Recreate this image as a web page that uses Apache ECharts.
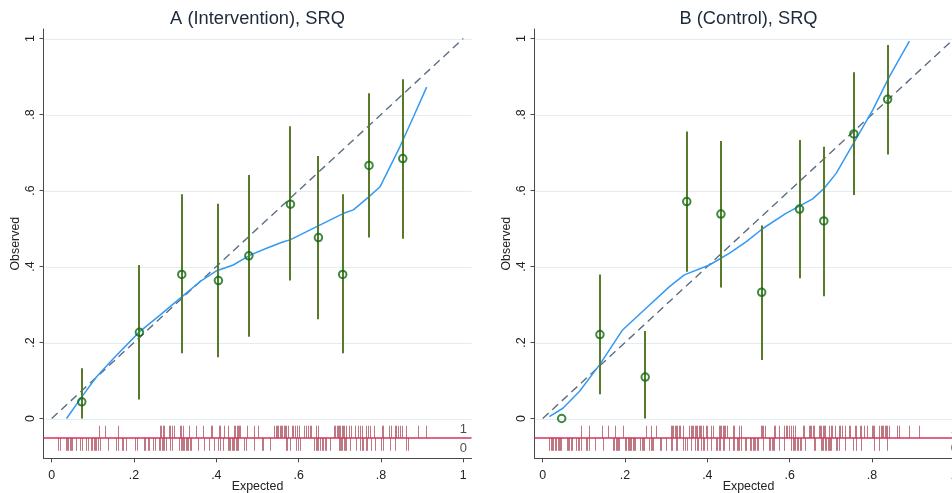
<!DOCTYPE html>
<html>
<head>
<meta charset="utf-8">
<script src="https://cdn.jsdelivr.net/npm/echarts@6/dist/echarts.min.js"></script>
<style>
  html, body { margin: 0; padding: 0; background: #ffffff; }
  #chart { width: 952px; height: 493px; }
</style>
</head>
<body>
<div id="chart"></div>
<script>
// ---- Axis ticks ----
const tickValues = [0, 0.2, 0.4, 0.6, 0.8, 1];
const tickLabels = ['0', '.2', '.4', '.6', '.8', '1'];
const panelTitles = ['A (Intervention), SRQ', 'B (Control), SRQ'];

// ---- Panel A (Intervention): grouped calibration points with 95% CI ----
const aExpected = [0.073, 0.213, 0.316, 0.405, 0.479, 0.580, 0.648, 0.707, 0.771, 0.853];
const aObserved = [0.044, 0.227, 0.379, 0.363, 0.428, 0.564, 0.476, 0.379, 0.666, 0.684];
const aCiLow    = [0.000, 0.050, 0.172, 0.161, 0.215, 0.363, 0.261, 0.172, 0.476, 0.473];
const aCiHigh   = [0.132, 0.404, 0.590, 0.565, 0.641, 0.769, 0.691, 0.590, 0.856, 0.893];

// Panel A lowess smoother
const aLowessX = [0.036, 0.073, 0.109, 0.150, 0.213, 0.263, 0.316, 0.360, 0.401, 0.441, 0.482, 0.522, 0.563, 0.579, 0.644, 0.709, 0.733, 0.769, 0.798, 0.846, 0.879, 0.911];
const aLowessY = [0.000, 0.057, 0.110, 0.158, 0.228, 0.272, 0.320, 0.360, 0.389, 0.404, 0.430, 0.448, 0.465, 0.470, 0.505, 0.540, 0.549, 0.582, 0.610, 0.715, 0.794, 0.872];

// Panel A predicted risks by outcome (rug)
const aRugEvents = [0.114, 0.130, 0.160, 0.262, 0.266, 0.270, 0.274, 0.284, 0.287, 0.292, 0.296, 0.311, 0.314, 0.319, 0.333, 0.351, 0.368, 0.386, 0.390, 0.406, 0.409, 0.419, 0.428, 0.442, 0.446, 0.449, 0.452, 0.455, 0.458, 0.474, 0.492, 0.501,
  0.541, 0.544, 0.548, 0.551, 0.554, 0.557, 0.560, 0.564, 0.567, 0.570, 0.573, 0.583, 0.586, 0.591, 0.596, 0.601, 0.614, 0.617, 0.622, 0.627, 0.630, 0.643, 0.646, 0.685, 0.689, 0.692, 0.695, 0.698, 0.701, 0.705, 0.708, 0.711, 0.714, 0.722, 0.727, 0.737, 0.745, 0.750, 0.755, 0.764, 0.769, 0.774, 0.784, 0.802, 0.805, 0.820, 0.825, 0.833, 0.836, 0.841, 0.846, 0.851, 0.860, 0.889, 0.910];
const aRugNonEvents = [0.015, 0.019, 0.034, 0.037, 0.040, 0.044, 0.047, 0.050, 0.058, 0.068, 0.073, 0.083, 0.087, 0.096, 0.099, 0.102, 0.105, 0.108, 0.112, 0.118, 0.136, 0.157, 0.160, 0.170, 0.173, 0.180, 0.202, 0.207, 0.224, 0.227, 0.233, 0.236, 0.245, 0.251, 0.261, 0.264, 0.267, 0.270, 0.274, 0.277, 0.288, 0.292, 0.309, 0.313, 0.316, 0.319, 0.322, 0.326, 0.329, 0.332, 0.335, 0.339, 0.355, 0.369, 0.381, 0.394, 0.405, 0.408, 0.416, 0.428, 0.431, 0.434, 0.437, 0.441, 0.444, 0.447, 0.450, 0.453, 0.468, 0.471, 0.492,
  0.510, 0.514, 0.530, 0.569, 0.572, 0.578, 0.593, 0.599, 0.603, 0.638, 0.642, 0.645, 0.648, 0.653, 0.656, 0.659, 0.663, 0.666, 0.676, 0.697, 0.700, 0.703, 0.706, 0.710, 0.713, 0.716, 0.724, 0.739, 0.750, 0.753, 0.757, 0.763, 0.766, 0.776, 0.786, 0.799, 0.805, 0.821, 0.834, 0.862, 0.865];

// ---- Panel B (Control) ----
const bExpected = [0.046, 0.139, 0.249, 0.350, 0.433, 0.532, 0.624, 0.683, 0.756, 0.838];
const bObserved = [0.000, 0.221, 0.109, 0.571, 0.538, 0.332, 0.551, 0.520, 0.749, 0.840];
const bCiLow    = [0.000, 0.064, 0.000, 0.386, 0.345, 0.154, 0.369, 0.322, 0.588, 0.695];
const bCiHigh   = [0.000, 0.379, 0.230, 0.755, 0.730, 0.508, 0.733, 0.715, 0.911, 0.983];

const bLowessX = [0.016, 0.049, 0.089, 0.138, 0.194, 0.251, 0.308, 0.344, 0.405, 0.454, 0.494, 0.535, 0.591, 0.656, 0.684, 0.713, 0.753, 0.802, 0.842, 0.891];
const bLowessY = [0.005, 0.027, 0.071, 0.141, 0.233, 0.290, 0.347, 0.378, 0.404, 0.435, 0.465, 0.500, 0.540, 0.578, 0.606, 0.645, 0.720, 0.812, 0.899, 0.993];

const bRugEvents = [0.094, 0.113, 0.144, 0.159, 0.175, 0.196, 0.251, 0.262, 0.275, 0.311, 0.314, 0.317, 0.321, 0.324, 0.327, 0.330, 0.334, 0.340, 0.356, 0.360, 0.363, 0.366, 0.369, 0.373, 0.376, 0.379, 0.382, 0.385, 0.389, 0.397, 0.400, 0.410, 0.413, 0.428, 0.431, 0.434, 0.437, 0.440, 0.444, 0.447, 0.462, 0.465, 0.478, 0.481,
  0.530, 0.533, 0.536, 0.541, 0.562, 0.565, 0.573, 0.586, 0.590, 0.593, 0.599, 0.604, 0.608, 0.614, 0.632, 0.635, 0.646, 0.650, 0.653, 0.656, 0.659, 0.671, 0.674, 0.677, 0.680, 0.684, 0.687, 0.696, 0.700, 0.703, 0.711, 0.719, 0.722, 0.727, 0.734, 0.744, 0.747, 0.758, 0.761, 0.771, 0.774, 0.781, 0.787, 0.799, 0.802, 0.805, 0.818, 0.821, 0.825, 0.828, 0.831, 0.834, 0.837, 0.841, 0.862, 0.865, 0.889, 0.914];
const bRugNonEvents = [0.016, 0.019, 0.023, 0.026, 0.029, 0.032, 0.036, 0.039, 0.042, 0.045, 0.058, 0.062, 0.065, 0.068, 0.071, 0.081, 0.086, 0.089, 0.092, 0.105, 0.108, 0.112, 0.128, 0.146, 0.170, 0.173, 0.177, 0.180, 0.183, 0.186, 0.199, 0.202, 0.206, 0.209, 0.212, 0.215, 0.219, 0.222, 0.225, 0.236, 0.240, 0.243, 0.246, 0.259, 0.262, 0.266, 0.269, 0.285, 0.288, 0.300, 0.311, 0.314, 0.324, 0.327, 0.340, 0.345, 0.350, 0.361, 0.371, 0.374, 0.377, 0.385, 0.389, 0.392, 0.399, 0.408, 0.421, 0.424, 0.428, 0.431, 0.437, 0.441, 0.452, 0.462, 0.465, 0.471, 0.475, 0.478, 0.481, 0.491, 0.494,
  0.504, 0.507, 0.510, 0.514, 0.517, 0.520, 0.523, 0.536, 0.549, 0.552, 0.556, 0.559, 0.562, 0.575, 0.586, 0.604, 0.608, 0.611, 0.614, 0.617, 0.620, 0.624, 0.627, 0.637, 0.658, 0.661, 0.676, 0.679, 0.682, 0.685, 0.688, 0.692, 0.695, 0.698, 0.701, 0.713, 0.716, 0.719, 0.735, 0.753, 0.761, 0.773, 0.805, 0.818, 0.836];

// ---- Styling ----
const FONT = '"Liberation Sans", Arial, Helvetica, sans-serif';
const X_RANGE = [-0.02, 1.02];
const Y_RANGE = [-0.105, 1.025];
const RUG_TOP = -0.019, RUG_BASE = -0.051, RUG_BOTTOM = -0.085;
const AXIS_COLOR = '#4a4a4a';
const TEXT_COLOR = '#222222';
const RUG_COLOR = 'rgba(135,10,30,0.55)';

const panels = [
  { expected: aExpected, observed: aObserved, lo: aCiLow, hi: aCiHigh, lx: aLowessX, ly: aLowessY, ev: aRugEvents, nev: aRugNonEvents },
  { expected: bExpected, observed: bObserved, lo: bCiLow, hi: bCiHigh, lx: bLowessX, ly: bLowessY, ev: bRugEvents, nev: bRugNonEvents }
];
const gridLefts = [43.5, 534.5];
const GRID_TOP = 29, GRID_W = 428, GRID_H = 429.4;

function tickLabel(v) {
  const i = tickValues.findIndex(t => Math.abs(t - v) < 1e-6);
  return i >= 0 ? tickLabels[i] : '';
}

function vSegments(data, color, width, z, idx) {
  return {
    type: 'custom', xAxisIndex: idx, yAxisIndex: idx, z: z, silent: true,
    encode: { x: 0, y: [1, 2] },
    data: data,
    renderItem: function (params, api) {
      const p0 = api.coord([api.value(0), api.value(1)]);
      const p1 = api.coord([api.value(0), api.value(2)]);
      const x = Math.round(p0[0]) + (width % 2 ? 0.5 : 0);
      return { type: 'line', shape: { x1: x, y1: p0[1], x2: x, y2: p1[1] }, style: { stroke: color, lineWidth: width } };
    }
  };
}

const grids = [], xAxes = [], yAxes = [], series = [], graphics = [];

panels.forEach(function (p, i) {
  grids.push({ left: gridLefts[i], top: GRID_TOP, width: GRID_W, height: GRID_H, containLabel: false, outerBoundsMode: 'none' });

  xAxes.push({
    type: 'value', gridIndex: i, min: X_RANGE[0], max: X_RANGE[1],
    name: 'Expected', nameLocation: 'middle', nameGap: 22, nameMoveOverlap: false,
    nameTextStyle: { color: TEXT_COLOR, fontSize: 12.4, fontFamily: FONT },
    axisLine: { show: true, onZero: false, lineStyle: { color: AXIS_COLOR, width: 1 } },
    axisTick: { show: true, customValues: tickValues, length: 4, lineStyle: { color: AXIS_COLOR } },
    axisLabel: { customValues: tickValues, formatter: tickLabel, color: TEXT_COLOR, fontSize: 12.4, fontFamily: FONT, margin: 11 },
    splitLine: { show: false }
  });

  yAxes.push({
    type: 'value', gridIndex: i, min: Y_RANGE[0], max: Y_RANGE[1],
    name: 'Observed', nameLocation: 'middle', nameGap: 22, nameMoveOverlap: false,
    nameTextStyle: { color: TEXT_COLOR, fontSize: 12.4, fontFamily: FONT },
    axisLine: { show: true, onZero: false, lineStyle: { color: AXIS_COLOR, width: 1 } },
    axisTick: { show: true, customValues: tickValues, length: 4, lineStyle: { color: AXIS_COLOR } },
    axisLabel: { customValues: tickValues, formatter: tickLabel, rotate: 90, color: TEXT_COLOR, fontSize: 12.4, fontFamily: FONT, margin: 7 },
    splitLine: { show: false }
  });

  // horizontal grid lines at the y ticks
  series.push({
    type: 'custom', xAxisIndex: i, yAxisIndex: i, z: 1, silent: true,
    encode: { x: 0, y: 1 },
    data: tickValues.map(v => [0, v]),
    renderItem: function (params, api) {
      const cs = params.coordSys;
      const y = Math.round(api.coord([0, api.value(1)])[1]) + 0.5;
      return { type: 'line', shape: { x1: cs.x + 1, y1: y, x2: cs.x + cs.width, y2: y }, style: { stroke: '#e3edef', lineWidth: 1 } };
    }
  });

  // rug of predicted risks: events above the baseline, non-events below
  series.push(vSegments(p.ev.map(v => [v, RUG_TOP, RUG_BASE]), RUG_COLOR, 1, 2, i));
  series.push(vSegments(p.nev.map(v => [v, RUG_BASE, RUG_BOTTOM]), RUG_COLOR, 1, 2, i));
  series.push({
    type: 'line', xAxisIndex: i, yAxisIndex: i, z: 3, silent: true, showSymbol: false,
    data: [[X_RANGE[0], RUG_BASE], [X_RANGE[1], RUG_BASE]],
    lineStyle: { color: '#d3365a', width: 1.5 }
  });
  series.push({
    type: 'scatter', xAxisIndex: i, yAxisIndex: i, z: 3, silent: true, symbolSize: 0,
    data: [[1.0, -0.028, '1'], [1.0, -0.080, '0']],
    label: { show: true, position: 'inside', formatter: d => d.value[2], color: TEXT_COLOR, fontSize: 13, fontFamily: FONT }
  });

  // line of perfect calibration
  series.push({
    type: 'line', xAxisIndex: i, yAxisIndex: i, z: 3, silent: true, showSymbol: false,
    data: [[0, 0], [1, 1]],
    lineStyle: { color: '#5b6e84', width: 1.4, type: [8, 5] }
  });

  // lowess smoother
  series.push({
    type: 'line', xAxisIndex: i, yAxisIndex: i, z: 4, silent: true, showSymbol: false,
    data: p.lx.map((x, k) => [x, p.ly[k]]),
    lineStyle: { color: '#3399f5', width: 1.5 }
  });

  // 95% confidence intervals of grouped observed proportions
  series.push(vSegments(p.expected.map((x, k) => [x, p.lo[k], p.hi[k]]), '#587a2a', 2, 5, i));

  // grouped observed proportions
  series.push({
    type: 'scatter', xAxisIndex: i, yAxisIndex: i, z: 6, silent: true,
    symbol: 'circle', symbolSize: 7.5,
    data: p.expected.map((x, k) => [x, p.observed[k]]),
    itemStyle: { color: 'rgba(255,255,255,0)', borderColor: '#0b6b10', borderWidth: 2 }
  });

  graphics.push({
    type: 'text', x: gridLefts[i] + GRID_W / 2, y: 19,
    style: { text: panelTitles[i], textAlign: 'center', textVerticalAlign: 'middle', fill: '#1c2a3a', fontSize: 18.3, fontFamily: FONT }
  });
});

const chart = echarts.init(document.getElementById('chart'), null, { renderer: 'canvas' });
chart.setOption({
  animation: false,
  backgroundColor: '#ffffff',
  grid: grids,
  xAxis: xAxes,
  yAxis: yAxes,
  series: series,
  graphic: graphics
});
</script>
</body>
</html>
